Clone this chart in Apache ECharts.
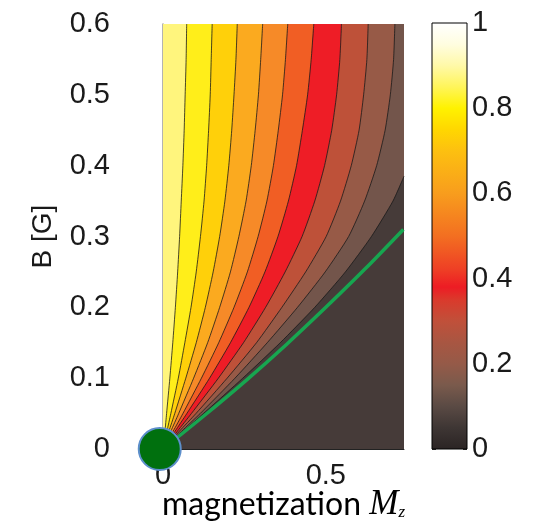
<!DOCTYPE html>
<html><head><meta charset="utf-8">
<script src="https://cdn.jsdelivr.net/npm/echarts@6/dist/echarts.min.js"></script>
<style>html,body{margin:0;padding:0;background:#fff}#c{width:533px;height:523px}</style>
</head><body><div id="c"></div>
<script>
// ---- data ----
// B values at which the contour lines were sampled
const contourB = [0, 0.025, 0.05, 0.1, 0.15, 0.2, 0.25, 0.3, 0.35, 0.4, 0.45, 0.5, 0.55, 0.6];
// M positions of each contour line (left to right) at the B values above
const line1M = [0, 0.006, 0.011, 0.021, 0.030, 0.038, 0.045, 0.051, 0.056, 0.061, 0.065, 0.068, 0.071, 0.0727];
const line2M = [0, 0.012, 0.024, 0.047, 0.067, 0.086, 0.102, 0.115, 0.126, 0.134, 0.140, 0.145, 0.148, 0.151];
const line3M = [0, 0.018, 0.036, 0.070, 0.102, 0.130, 0.154, 0.174, 0.190, 0.202, 0.211, 0.218, 0.224, 0.228];
const line4M = [0, 0.024, 0.048, 0.094, 0.137, 0.174, 0.207, 0.233, 0.255, 0.271, 0.283, 0.293, 0.300, 0.306];
const line5M = [0, 0.031, 0.061, 0.118, 0.171, 0.218, 0.259, 0.292, 0.319, 0.339, 0.354, 0.367, 0.376, 0.383];
const line6M = [0, 0.037, 0.073, 0.143, 0.207, 0.264, 0.313, 0.353, 0.385, 0.410, 0.428, 0.444, 0.455, 0.463];
const line7M = [0, 0.044, 0.087, 0.170, 0.247, 0.315, 0.375, 0.427, 0.466, 0.496, 0.518, 0.533, 0.543, 0.548];
const line8M = [0, 0.050, 0.101, 0.197, 0.287, 0.365, 0.438, 0.501, 0.545, 0.578, 0.602, 0.616, 0.626, 0.630];
const line9M = [0, 0.057, 0.114, 0.221, 0.320, 0.413, 0.498, 0.570, 0.619, 0.656, 0.682, 0.698, 0.708, 0.712];
// last contour line leaves through the right edge
const line10B = [0, 0.025, 0.05, 0.1, 0.15, 0.2, 0.25, 0.3, 0.35, 0.385];
const line10M = [0, 0.062, 0.124, 0.245, 0.360, 0.466, 0.560, 0.640, 0.706, 0.740];
// green curve
const greenM = [0, 0.129, 0.258, 0.380, 0.500, 0.620, 0.738];
const greenB = [0, 0.048, 0.098, 0.148, 0.200, 0.254, 0.310];
// green marker
const dotM = [-0.01];
const dotB = [0];
// axes
const xMin = 0, xMax = 0.74, xStep = 0.5;
const yMin = 0, yMax = 0.6, yStep = 0.1;
const cbMin = 0, cbMax = 1, cbStep = 0.2;
// colour bar colormap (value -> colour)
const cmapValues = [0, 0.05, 0.1, 0.15, 0.2, 0.25, 0.3, 0.35, 0.38, 0.42, 0.5, 0.6, 0.7, 0.75, 0.8, 0.85, 0.9, 0.95, 1];
const cmapColors = ['#2b2424','#3e3634','#5a4a44','#7a5a4c','#955a48','#a85642','#c0503a','#da3a2c','#ed1c24','#ee3e25','#f36f21','#f89d1d','#fdc010','#ffd700','#fff200','#fff55a','#fff9a8','#fffde0','#ffffff'];

// ---- styles ----
const bandColors = ['#fff57d','#ffee1a','#ffd00a','#fbaa1f','#f68a28','#f15e24','#ee1d26','#be5139','#975a47','#73554b'];
const darkBand = '#463b39';
const txt = '#1a1a1a';
const fontFam = '"Liberation Sans", Arial, Helvetica, sans-serif';

const zip = (xs, ys) => xs.map((x, i) => [x, ys[i]]);
const topLines = [line1M, line2M, line3M, line4M, line5M, line6M, line7M, line8M, line9M];

const series = [];
series.push({
  type: 'line', xAxisIndex: 0, yAxisIndex: 0, data: zip(line10M, line10B),
  showSymbol: false, smooth: 0.2, clip: true, silent: true,
  lineStyle: { color: '#1a1a1a', width: 0.8 },
  areaStyle: { color: bandColors[9], opacity: 1, origin: 'end' }
});
for (let i = topLines.length - 1; i >= 0; i--) {
  series.push({
    type: 'line', xAxisIndex: 0, yAxisIndex: 0, data: zip(topLines[i], contourB),
    showSymbol: false, smooth: 0.2, clip: true, silent: true,
    lineStyle: { color: '#1a1a1a', width: 0.8 },
    areaStyle: { color: bandColors[i], opacity: 1, origin: 'end' }
  });
}
series.push({
  type: 'line', xAxisIndex: 0, yAxisIndex: 0, data: zip(greenM, greenB),
  showSymbol: false, smooth: 0.3, clip: true, silent: true,
  lineStyle: { color: '#17a650', width: 3.5, join: 'round' }
});
series.push({
  type: 'scatter', xAxisIndex: 0, yAxisIndex: 0, data: zip(dotM, dotB),
  symbol: 'circle', symbolSize: 42, clip: false, z: 10, silent: true,
  itemStyle: { color: '#00700e', borderColor: '#5d8fcb', borderWidth: 2, opacity: 1 }
});
series.push({
  type: 'bar', xAxisIndex: 1, yAxisIndex: 1, data: [cbMax], barWidth: '100%', silent: true,
  itemStyle: { color: new echarts.graphic.LinearGradient(0, 1, 0, 0,
      cmapValues.map((v, i) => ({ offset: (v - cbMin) / (cbMax - cbMin), color: cmapColors[i] }))) }
});

const chart = echarts.init(document.getElementById('c'), null, { renderer: 'canvas' });
chart.setOption({
  backgroundColor: '#ffffff',
  animation: false,
  grid: [
    { left: 163, top: 24, right: 129, bottom: 74, show: true, backgroundColor: darkBand, borderWidth: 0,
      containLabel: false, outerBoundsMode: 'none' },
    { left: 432, top: 23, width: 35, height: 426, show: true, borderColor: '#000', borderWidth: 1,
      backgroundColor: 'transparent', z: 5, containLabel: false, outerBoundsMode: 'none' }
  ],
  xAxis: [
    { type: 'value', gridIndex: 0, min: xMin, max: xMax, interval: xStep,
      axisLine: { show: true, lineStyle: { color: '#222', width: 1 } },
      axisTick: { show: false }, splitLine: { show: false },
      axisLabel: { fontSize: 29, color: txt, fontFamily: fontFam, margin: 12, showMaxLabel: false,
        formatter: v => (v === 0 ? '0' : String(v)) },
      name: '{a|magnetization }{m|M}{s|z}', nameLocation: 'middle', nameGap: 38, nameMoveOverlap: false,
      nameTextStyle: { rich: {
        a: { fontFamily: 'Lato, "Open Sans", sans-serif', fontSize: 32, color: '#000' },
        m: { fontFamily: '"Liberation Serif", "DejaVu Serif", serif', fontStyle: 'italic', fontSize: 35, color: '#000' },
        s: { fontFamily: '"Liberation Serif", "DejaVu Serif", serif', fontStyle: 'italic', fontSize: 17, color: '#000', padding: [16, 0, 0, 0] }
      } } },
    { type: 'category', gridIndex: 1, data: ['cb'], show: false, boundaryGap: true }
  ],
  yAxis: [
    { type: 'value', gridIndex: 0, min: yMin, max: yMax, interval: yStep,
      axisLine: { show: true, lineStyle: { color: '#9a9a9a', width: 1.5 } },
      axisTick: { show: false }, splitLine: { show: false },
      axisLabel: { fontSize: 29, color: txt, fontFamily: fontFam, margin: 53, verticalAlign: 'middle',
        formatter: v => (v === 0 ? '0' : v.toFixed(1)) },
      name: 'B [G]', nameLocation: 'middle', nameGap: 106, nameRotate: 90, nameMoveOverlap: false,
      nameTextStyle: { fontSize: 28, color: txt, fontFamily: fontFam } },
    { type: 'value', gridIndex: 1, position: 'right', min: cbMin, max: cbMax, interval: cbStep,
      axisLine: { show: false }, splitLine: { show: false },
      axisTick: { show: true, inside: true, length: 4, lineStyle: { color: '#333' } },
      axisLabel: { fontSize: 29, color: txt, fontFamily: fontFam, margin: 5, verticalAlign: 'middle',
        formatter: v => (v === 0 || v === 1 ? String(v) : v.toFixed(1)) } },
    { type: 'value', gridIndex: 1, position: 'left', min: cbMin, max: cbMax, interval: cbStep,
      axisLine: { show: false }, splitLine: { show: false }, axisLabel: { show: false },
      axisTick: { show: true, inside: true, length: 4, lineStyle: { color: '#333' } } }
  ],
  series: series
});
</script></body></html>
